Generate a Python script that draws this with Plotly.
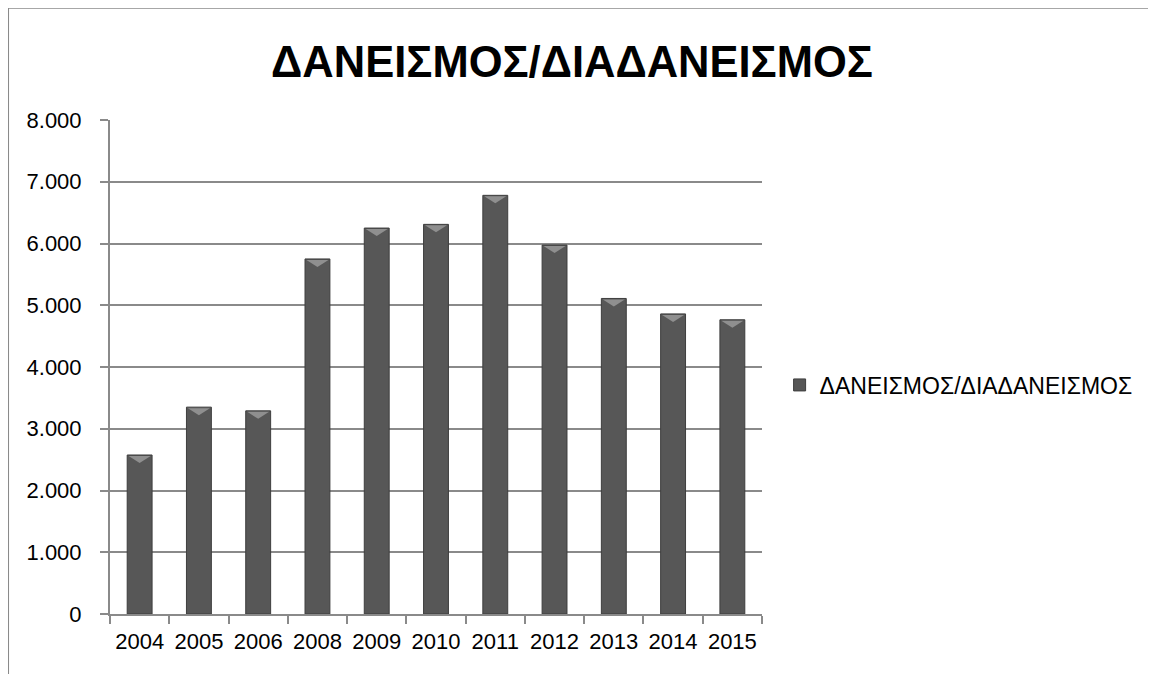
import plotly.graph_objects as go

# ---- data ----
years = ["2004", "2005", "2006", "2008", "2009", "2010", "2011", "2012", "2013", "2014", "2015"]
values = [2575, 3350, 3290, 5750, 6250, 6310, 6780, 5975, 5110, 4860, 4765]
series_name = "ΔΑΝΕΙΣΜΟΣ/ΔΙΑΔΑΝΕΙΣΜΟΣ"
chart_title = "ΔΑΝΕΙΣΜΟΣ/ΔΙΑΔΑΝΕΙΣΜΟΣ"
y_ticks = [0, 1000, 2000, 3000, 4000, 5000, 6000, 7000, 8000]

FONT = "Liberation Sans, Arial, sans-serif"
GRID = "#8a8a8a"

fig = go.Figure()
fig.add_trace(go.Bar(
    x=years, y=values, name=series_name,
    marker=dict(color="#575757", line=dict(color="#3e3e3e", width=1)),
    showlegend=True,
))

# bevel triangles on bar tops (pixel-sized, anchored at each bar's value)
shapes = []
for i, v in enumerate(values):
    shapes.append(dict(
        type="path", xref="x", yref="y",
        xsizemode="pixel", ysizemode="pixel",
        xanchor=i, yanchor=v,
        path="M -11 -1 L 11 -1 L 0 -8 Z",
        fillcolor="#8f8f8f", line=dict(width=0), layer="above",
    ))
# chart outer border (only top and left edges are inside the picture)
shapes.append(dict(type="line", xref="paper", yref="paper",
                   x0=-0.156, x1=1.7, y0=1.2267, y1=1.2267,
                   line=dict(color="#8a8a8a", width=1.5), layer="below"))
shapes.append(dict(type="line", xref="paper", yref="paper",
                   x0=-0.156, x1=-0.156, y0=-0.3, y1=1.2267,
                   line=dict(color="#8a8a8a", width=1.5), layer="below"))

W, H = 1148, 666
fig.update_layout(
    width=W, height=H,
    margin=dict(l=102, r=394, t=112, b=60),
    paper_bgcolor="white", plot_bgcolor="white",
    separators=",.",
    font=dict(family=FONT, size=22, color="#000000"),
    title=dict(text="<b>" + chart_title + "</b>", xref="container", x=564 / W,
               y=1 - 54 / H, yanchor="middle", xanchor="center",
               font=dict(family=FONT, size=43.5, color="#000000")),
    bargap=0.58,
    shapes=shapes,
    legend=dict(x=1.027, y=0.4636, xanchor="left", yanchor="middle",
                font=dict(family=FONT, size=23, color="#000000"),
                bgcolor="rgba(0,0,0,0)", itemwidth=30),
    xaxis=dict(type="category", tickson="boundaries", ticks="outside", ticklen=8,
               tickcolor=GRID, tickwidth=2, showline=True, linecolor=GRID, linewidth=2,
               showgrid=False, ticklabelstandoff=7,
               tickfont=dict(family=FONT, size=22, color="#000000")),
    yaxis=dict(range=[0, 8000], tickvals=y_ticks, tickformat=",.0f", ticks="outside",
               ticklen=8, tickcolor=GRID, tickwidth=2, showline=True, linecolor=GRID,
               linewidth=2, showgrid=True, gridcolor=GRID, gridwidth=2,
               zeroline=False, ticklabelstandoff=14,
               tickfont=dict(family=FONT, size=22, color="#000000")),
)

fig.write_html("out.html")
